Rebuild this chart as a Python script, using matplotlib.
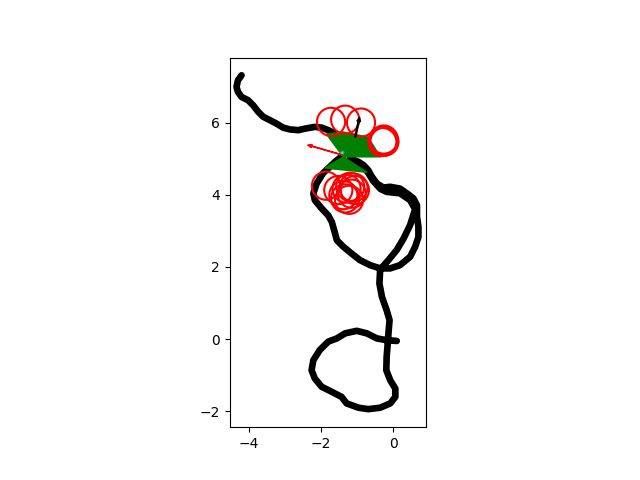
import numpy as np
import matplotlib
matplotlib.use('Agg')
import matplotlib.pyplot as plt
import matplotlib.patches as mpatches

# trajectory (x, y)
track_x = [-4.20, -4.30, -4.34, -4.30, -4.20, -4.02, -3.88, -3.74, -3.60, -3.42, -3.23, -3.05,
           -2.86, -2.63, -2.40, -2.17, -1.98, -1.80, -1.61, -1.43, -1.25, -1.38,
           -1.60, -1.94, -2.12, -2.21, -2.17, -1.98, -1.80, -1.70, -1.61, -1.56, -1.38, -1.15,
           -0.92, -0.64, -0.36,
           -0.08, 0.19, 0.47, 0.61, 0.70, 0.70, 0.66, 0.66, 0.56, 0.38, 0.19, -0.08, -0.27,
           -0.45, -0.59, -0.69, -0.82, -0.96, -1.20,
           -0.90, -0.70, -0.55, -0.35, -0.18, 0.19, 0.47, 0.61, 0.47, 0.29, 0.10, -0.13, -0.36,
           -0.38, -0.31, -0.18, -0.10, -0.13, -0.15, -0.18, -0.19, -0.08, 0.06, 0.06, -0.08,
           -0.36, -0.69, -0.96, -1.29, -1.43, -1.70, -1.98, -2.17, -2.26, -2.21, -2.03, -1.80,
           -1.56, -1.33, -1.01, -0.73, -0.45, -0.18, 0.10]
track_y = [7.31, 7.17, 6.99, 6.85, 6.71, 6.62, 6.48, 6.30, 6.16, 6.07, 5.97, 5.86,
           5.81, 5.79, 5.84, 5.88, 5.86, 5.79, 5.70, 5.59, 5.55, 5.10,
           4.92, 4.60, 4.31, 4.04, 3.85, 3.62, 3.43, 3.25, 2.93, 2.74, 2.56, 2.37,
           2.19, 2.05, 1.96,
           1.96, 2.05, 2.28, 2.56, 2.83, 3.11, 3.39, 3.71, 3.90, 4.04, 4.17, 4.22, 4.20,
           4.31, 4.50, 4.68, 4.82, 4.91, 5.00,
           4.85, 4.62, 4.38, 4.16, 4.08, 4.04, 3.85, 3.60, 3.16, 2.79, 2.47, 2.19, 1.93,
           1.54, 1.17, 0.80, 0.53, 0.16, -0.12, -0.49, -0.86, -1.14, -1.37, -1.60, -1.78,
           -1.90, -1.94, -1.90, -1.78, -1.60, -1.46, -1.32, -1.09, -0.86, -0.58, -0.30, -0.07,
           0.02, 0.16, 0.23, 0.16, 0.02, -0.03, -0.05]

# red circles (centres)
circle_x = [-1.72, -1.33, -0.89, -0.28, -0.24, -0.30, -0.26,
            -1.86, -1.52, -1.29, -1.15, -1.33, -1.06, -1.38, -1.19, -1.22, -1.10]
circle_y = [6.02, 6.08, 6.00, 5.50, 5.47, 5.46, 5.53,
            4.25, 4.13, 4.17, 4.03, 3.90, 4.13, 3.99, 4.22, 3.86, 4.20]
circle_r = 0.39

# green shapes
green_upper = [(-1.85, 5.68), (-1.40, 5.74), (-0.70, 5.60), (-0.35, 5.05), (-1.38, 5.05)]
green_lower = [(-1.38, 5.05), (-1.90, 4.74), (-0.72, 4.62)]
cyan_tip = [(-1.47, 5.13), (-1.39, 5.20), (-1.40, 5.10)]

# arrows (x, y, dx, dy)
red_arrow = (-1.40, 5.10, -0.97, 0.28)
black_arrow = (-1.05, 5.60, 0.12, 0.55)

fig, ax = plt.subplots()
ax.plot(track_x, track_y, '-', color='k', lw=4.8, solid_capstyle='round', solid_joinstyle='round', zorder=2)
ax.add_patch(mpatches.Polygon(green_upper, closed=True, color='green', zorder=3))
ax.add_patch(mpatches.Polygon(green_lower, closed=True, color='green', zorder=3))
ax.add_patch(mpatches.Polygon(cyan_tip, closed=True, color='cyan', zorder=3))
for cx, cy in zip(circle_x, circle_y):
    ax.add_patch(mpatches.Circle((cx, cy), circle_r, fill=False, edgecolor='red', lw=1.5, zorder=4))
ax.arrow(*red_arrow, color='red', width=0.012, head_width=0.09, head_length=0.12,
         length_includes_head=True, zorder=5)
ax.arrow(*black_arrow, color='k', width=0.03, head_width=0.1, head_length=0.12,
         length_includes_head=True, zorder=5)

ax.set_xlim(-4.53, 0.92)
ax.set_ylim(-2.44, 7.80)
ax.set_aspect('equal')
plt.savefig('out.png', dpi=100)
